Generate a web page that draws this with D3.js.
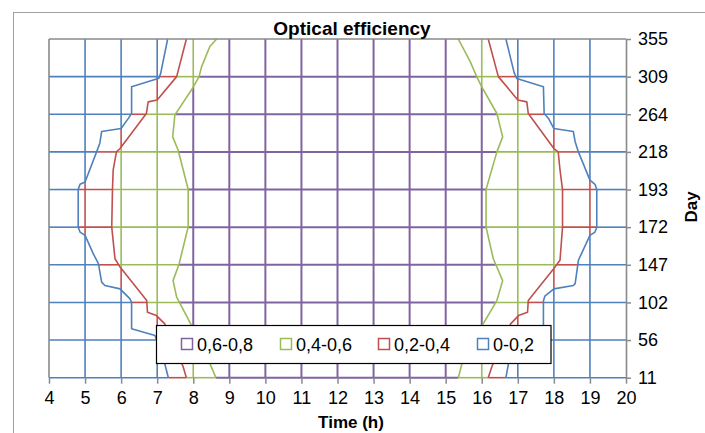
<!DOCTYPE html>
<html>
<head>
<meta charset="utf-8">
<script src="https://cdn.jsdelivr.net/npm/d3@7"></script>
<style>
  html, body { margin: 0; padding: 0; background: #fff; }
  svg { display: block; }
  text { font-family: "Liberation Sans", Arial, sans-serif; }
</style>
</head>
<body>
<svg id="chart" width="705" height="433"></svg>
<script>
// ---- Data ----
const days = [11, 56, 102, 147, 172, 193, 218, 264, 309, 355];   // rows (categorical)
const hours = [4,5,6,7,8,9,10,11,12,13,14,15,16,17,18,19,20];    // x tick labels
const bandLabels = ["0,6-0,8", "0,4-0,6", "0,2-0,4", "0-0,2"];
const bandColors = ["#8064A2", "#9BBB59", "#C0504D", "#4F81BD"];

// Contour boundaries: [hour, row position (0 = day 11 ... 9 = day 355)]
const blueLeft = [[7.31,0],[7.21,0.37],[6.94,1.12],[6.29,1.3],[6.29,2.0],[6.24,2.1],[5.97,2.36],[5.55,2.45],[5.46,2.54],[5.37,3.03],[5.23,3.29],[5.0,3.78],[4.86,3.87],[4.81,4],[4.81,5],[4.86,5.14],[5.0,5.2],[5.32,6.0],[5.41,6.23],[5.46,6.54],[6.0,6.62],[6.2,6.89],[6.29,7.02],[6.29,7.73],[7.05,7.96],[7.1,8.1],[7.29,9]];
const redLeft = [[7.81,0],[7.72,0.29],[7.45,0.9],[7.21,1.43],[6.98,1.65],[6.73,1.74],[6.71,2.05],[5.97,2.94],[5.83,3.16],[5.74,4],[5.76,5],[5.78,5.52],[5.87,6.0],[5.97,6.09],[6.7,7.02],[6.75,7.33],[7.0,7.38],[7.54,8],[7.81,9]];
const greenLeft = [[8.63,0],[8.46,0.38],[8.1,1.1],[7.95,1.39],[7.81,1.65],[7.54,2.14],[7.44,2.58],[7.61,3.03],[7.81,3.82],[7.86,4],[7.86,5],[7.58,6.05],[7.43,6.4],[7.49,6.98],[7.58,7.11],[7.98,7.69],[8.16,8],[8.23,8.26],[8.46,8.8],[8.65,9]];
const blueRight = [[16.67,0],[16.74,0.37],[17.06,1.12],[17.71,1.3],[17.71,2.04],[17.75,2.17],[18.0,2.36],[18.54,2.45],[18.59,2.5],[18.68,3.12],[19.0,3.78],[19.14,3.87],[19.19,4],[19.19,5],[19.14,5.14],[19.0,5.25],[18.68,6.0],[18.59,6.27],[18.54,6.54],[18.0,6.62],[17.85,6.89],[17.73,7.02],[17.71,7.73],[16.97,7.95],[16.9,8.1],[16.67,9]];
const redRight = [[16.18,0],[16.28,0.29],[16.55,0.9],[16.8,1.43],[17.02,1.65],[17.27,1.74],[17.29,2.05],[18.0,2.9],[18.17,3.12],[18.24,4],[18.24,5],[18.17,5.52],[18.12,6.0],[18.0,6.09],[17.29,7.02],[17.25,7.33],[17.0,7.38],[16.46,8],[16.18,9]];
const greenRight = [[15.35,0],[15.45,0.37],[15.9,1.2],[16.05,1.45],[16.42,2.05],[16.58,2.58],[16.32,3.16],[16.12,4],[16.12,5],[16.14,5.07],[16.42,6.0],[16.58,6.4],[16.42,7.02],[16.0,7.73],[15.86,8],[15.82,8.09],[15.68,8.4],[15.35,9]];

// ---- Layout ----
const svg = d3.select("#chart");
const pLeft = 49, pRight = 626, pTop = 39, pBottom = 377.7;
const x = d3.scaleLinear().domain([4, 20]).range([pLeft, pRight]);
const y = d3.scaleLinear().domain([0, days.length - 1]).range([pBottom, pTop]);
const gray = "#8a8a8a";

// chart area border
svg.append("rect").attr("x", 13.5).attr("y", 12.5).attr("width", 720).attr("height", 440)
  .attr("fill", "#fff").attr("stroke", "#a0a0a0").attr("stroke-width", 1);

// interpolators: hour of boundary as function of row position
const interp = pts => d3.scaleLinear().domain(pts.map(p => p[1])).range(pts.map(p => p[0])).clamp(true);
const bL = interp(blueLeft), rL = interp(redLeft), gL = interp(greenLeft);
const bR = interp(blueRight), rR = interp(redRight), gR = interp(greenRight);

// band index: 0 purple, 1 green, 2 red, 3 blue
function band(h, r) {
  if (h <= 12) {
    if (h < bL(r)) return 3;
    if (h < rL(r)) return 2;
    if (h < gL(r)) return 1;
    return 0;
  } else {
    if (h > bR(r)) return 3;
    if (h > rR(r)) return 2;
    if (h > gR(r)) return 1;
    return 0;
  }
}

const grid = svg.append("g").attr("fill", "none");

// horizontal grid lines (one per day row)
days.forEach((d, i) => {
  if (i === days.length - 1) return;
  const br = [4, bL(i), rL(i), gL(i), gR(i), rR(i), bR(i), 20];
  const cols = [3, 2, 1, 0, 1, 2, 3];
  for (let k = 0; k < 7; k++) {
    const a = Math.max(4, br[k]), b = Math.min(20, br[k + 1]);
    if (b <= a) continue;
    grid.append("line")
      .attr("x1", x(a)).attr("x2", x(b)).attr("y1", y(i)).attr("y2", y(i))
      .attr("stroke", bandColors[cols[k]]).attr("stroke-width", cols[k] === 0 ? 2 : 1.6);
  }
});

// vertical grid lines (one per hour)
hours.forEach(h => {
  if (h === 4 || h === 20) return;
  const n = 1800, r0 = 0, r1 = days.length - 1;
  let start = r0, cur = band(h, r0);
  for (let s = 1; s <= n; s++) {
    const r = r0 + (r1 - r0) * s / n;
    const bnd = s === n ? -1 : band(h, r);
    if (bnd !== cur) {
      grid.append("line")
        .attr("x1", x(h)).attr("x2", x(h)).attr("y1", y(start)).attr("y2", y(r))
        .attr("stroke", bandColors[cur]).attr("stroke-width", cur === 0 ? 2 : 1.6);
      start = r; cur = bnd;
    }
  }
});

// contour lines
const line = d3.line().x(d => x(d[0])).y(d => y(d[1]));
const contours = [
  [blueLeft, 3], [blueRight, 3], [redLeft, 2], [redRight, 2], [greenLeft, 1], [greenRight, 1]
];
contours.forEach(([pts, c]) => {
  svg.append("path").attr("d", line(pts)).attr("fill", "none")
    .attr("stroke", bandColors[c]).attr("stroke-width", 1.6).attr("stroke-linejoin", "round");
});

// plot frame (top, left)
svg.append("line").attr("x1", x(4)).attr("x2", x(20)).attr("y1", y(9)).attr("y2", y(9))
  .attr("stroke", gray).attr("stroke-width", 1.6);
svg.append("line").attr("x1", x(4)).attr("x2", x(4)).attr("y1", y(9)).attr("y2", y(0))
  .attr("stroke", gray).attr("stroke-width", 1.6);

// bottom axis (ticks + labels)
const xAxis = svg.append("g").attr("transform", `translate(0,${pBottom})`)
  .call(d3.axisBottom(x).tickValues(hours).tickFormat(d3.format("d")).tickSize(6).tickPadding(8));
xAxis.select(".domain").remove();
xAxis.selectAll(".tick line").attr("stroke", gray).attr("stroke-width", 1.5);
xAxis.selectAll(".tick text").attr("font-size", 18).attr("fill", "#000")
  .attr("font-family", "'Liberation Sans', Arial, sans-serif");

// right axis (days)
const yAxis = svg.append("g").attr("transform", `translate(${pRight},0)`)
  .call(d3.axisRight(y).tickValues(d3.range(days.length)).tickFormat(i => days[i]).tickSize(5).tickSizeOuter(0).tickPadding(7));
yAxis.select(".domain").attr("stroke", gray).attr("stroke-width", 1.6);
yAxis.selectAll(".tick line").attr("stroke", gray).attr("stroke-width", 1.5);
yAxis.selectAll(".tick text").attr("font-size", 18).attr("fill", "#000")
  .attr("font-family", "'Liberation Sans', Arial, sans-serif");

// titles
svg.append("text").attr("x", 352).attr("y", 35).attr("text-anchor", "middle")
  .attr("font-size", 19).attr("font-weight", "bold").text("Optical efficiency");
svg.append("text").attr("x", 351).attr("y", 428).attr("text-anchor", "middle")
  .attr("font-size", 17).attr("font-weight", "bold").text("Time (h)");
svg.append("text").attr("transform", "translate(697,207) rotate(-90)").attr("text-anchor", "middle")
  .attr("font-size", 17).attr("font-weight", "bold").text("Day");

// legend
const lg = svg.append("g");
lg.append("rect").attr("x", 156.5).attr("y", 325.5).attr("width", 394.5).attr("height", 38)
  .attr("fill", "#fff").attr("stroke", "#000").attr("stroke-width", 1.2);
const legendX = [181, 280, 378, 477];
bandLabels.forEach((lab, i) => {
  lg.append("rect").attr("x", legendX[i] + 0.5).attr("y", 338.5).attr("width", 11).attr("height", 11)
    .attr("fill", "#fff").attr("stroke", bandColors[i]).attr("stroke-width", 1.5);
  lg.append("text").attr("x", legendX[i] + 16).attr("y", 350.5).attr("font-size", 18)
    .attr("fill", "#000").text(lab);
});
</script>
</body>
</html>
